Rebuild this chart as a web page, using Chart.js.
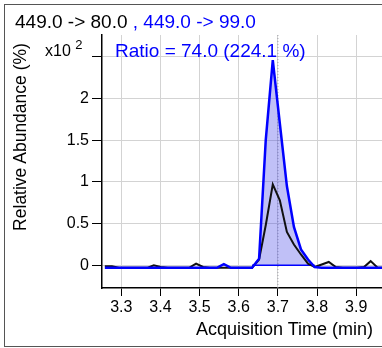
<!DOCTYPE html>
<html>
<head>
<meta charset="utf-8">
<script src="https://cdn.jsdelivr.net/npm/chart.js@4.4.1/dist/chart.umd.min.js"></script>
<style>
    html, body { margin: 0; padding: 0; background: #fff; overflow: hidden; }
    body { width: 382px; height: 348px; position: relative; font-family: "Liberation Sans", Arial, sans-serif; }
    #frame { position: absolute; left: 4px; top: 4px; width: 420px; height: 343px; box-sizing: border-box; border: 1.5px solid #555; pointer-events: none; }
    #wrap { position: absolute; left: 0; top: 0; width: 382px; height: 348px; }
    .txt { position: absolute; white-space: nowrap; }
    #title { left: 15px; top: 12px; font-size: 19px; line-height: 19px; }
    #ratio { left: 115px; top: 41px; font-size: 19px; line-height: 19px; color: #0000ff; }
    #mult { left: 45px; top: 43px; font-size: 16px; line-height: 16px; color: #000; }
    #mult span { position: relative; top: -7px; font-size: 13px; }
    #ytitle { left: 20px; top: 137px; font-size: 17.5px; line-height: 17px; transform: translate(-50%, -50%) rotate(-90deg); }
    #xtitle { right: 9px; top: 320px; font-size: 18px; line-height: 18px; }
</style>
</head>
<body>
<div id="wrap"><canvas id="chart" width="382" height="348"></canvas></div>
<div id="frame"></div>
<div class="txt" id="title"><span style="color:#000">449.0 -&gt; 80.0</span><span style="color:#0000ff"> , 449.0 -&gt; 99.0</span></div>
<div class="txt" id="ratio">Ratio = 74.0 (224.1 %)</div>
<div class="txt" id="mult">x10 <span>2</span></div>
<div class="txt" id="ytitle">Relative Abundance (%)</div>
<div class="txt" id="xtitle">Acquisition Time (min)</div>
<script>
// acquisition times (min)
const times = [3.258, 3.276, 3.294, 3.312, 3.330, 3.348, 3.366, 3.383, 3.401, 3.419,
               3.437, 3.455, 3.473, 3.491, 3.509, 3.526, 3.544, 3.562, 3.580, 3.598,
               3.616, 3.634, 3.652, 3.669, 3.687, 3.705, 3.723, 3.741, 3.759, 3.777,
               3.794, 3.812, 3.830, 3.848, 3.866, 3.884, 3.902, 3.920, 3.937, 3.955, 3.973];
// 449.0 -> 80.0 (x10^2 %)
const qualifier = [-0.01, -0.01, -0.03, -0.03, -0.03, -0.03, -0.03, 0.00, -0.02, -0.03,
                   -0.03, -0.03, -0.03, 0.02, -0.02, -0.03, -0.03, -0.03, -0.03, -0.03,
                   -0.03, -0.03, 0.07, 0.48, 0.97, 0.78, 0.40, 0.25, 0.13, 0.02,
                   -0.02, 0.01, 0.04, -0.02, -0.03, -0.03, -0.03, -0.02, 0.05, -0.03, -0.03];
// 449.0 -> 99.0 (x10^2 %)
const target = [-0.03, -0.03, -0.03, -0.03, -0.03, -0.03, -0.03, -0.03, -0.03, -0.03,
                -0.03, -0.03, -0.03, -0.03, -0.03, -0.03, -0.03, 0.015, -0.03, -0.03,
                -0.03, -0.03, 0.08, 1.50, 2.46, 1.70, 0.95, 0.46, 0.19, 0.07,
                -0.02, -0.03, -0.03, -0.03, -0.03, -0.03, -0.03, -0.03, -0.03, -0.03, -0.03];
const peakStart = 3.634;
const peakEnd = 3.794;
const rtMarker = 3.70;
const xTicks = [3.3, 3.4, 3.5, 3.6, 3.7, 3.8, 3.9];
const yTicks = [0, 0.5, 1, 1.5, 2, 2.5];
const xMin = 3.2507, xMax = 3.966;
const yMin = -0.272, yMax = 2.761;

const toPts = (ys) => times.map((t, i) => ({ x: t, y: ys[i] }));
const areaPts = [{ x: peakStart, y: 0 }]
    .concat(toPts(target).filter(p => p.x > peakStart && p.x < peakEnd))
    .concat([{ x: peakEnd, y: 0 }]);

new Chart(document.getElementById('chart'), {
    type: 'line',
    data: {
        datasets: [
            { data: [{ x: rtMarker, y: yMin }, { x: rtMarker, y: yMax }], borderColor: '#a0a0a8', borderWidth: 1, borderDash: [1, 2], order: 5 },
            { data: areaPts, borderWidth: 0, borderColor: 'rgba(0,0,0,0)', backgroundColor: 'rgba(60,60,230,0.32)', fill: 'origin', order: 4 },
            { data: [{ x: peakStart, y: 0 }, { x: peakEnd, y: 0 }], borderColor: '#0000ff', borderWidth: 1.5, order: 3 },
            { data: toPts(qualifier), borderColor: '#111', borderWidth: 2, order: 2 },
            { data: toPts(target), borderColor: '#0000ff', borderWidth: 2.5, order: 1 }
        ]
    },
    options: {
        responsive: false, animation: false,
        layout: { padding: { top: 35, right: 0, left: 0, bottom: 0 } },
        elements: { point: { radius: 0 }, line: { tension: 0, fill: false } },
        plugins: { legend: { display: false }, tooltip: { enabled: false } },
        scales: {
            x: {
                type: 'linear', min: xMin, max: xMax,
                afterBuildTicks: s => { s.ticks = xTicks.map(v => ({ value: v })); },
                afterFit: s => { s.height = 60; },
                ticks: { color: '#000', padding: 2, font: { family: '"Liberation Sans", Arial', size: 16 }, callback: v => v.toFixed(1), maxRotation: 0 },
                grid: { color: '#d3d3d3', lineWidth: 1, tickColor: '#000', tickLength: 8 },
                border: { color: '#000', width: 1.5 }
            },
            y: {
                min: yMin, max: yMax,
                afterBuildTicks: s => { s.ticks = yTicks.map(v => ({ value: v })); },
                afterFit: s => { s.width = 102; },
                ticks: { color: '#000', padding: 3, font: { family: '"Liberation Sans", Arial', size: 16 }, callback: v => v === 2.5 ? '' : String(v) },
                grid: { color: '#d3d3d3', lineWidth: 1, tickColor: '#000', tickLength: 10 },
                border: { color: '#000', width: 1.5 }
            }
        }
    }
});
</script>
</body>
</html>
